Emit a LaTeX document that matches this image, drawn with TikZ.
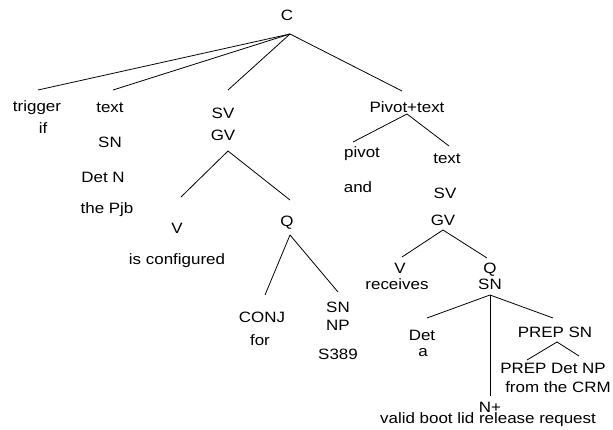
\documentclass[tikz,border=0pt]{standalone}
\usepackage{fontspec}
\setmainfont{Liberation Sans}[FakeStretch=1.13]
\begin{document}
\begin{tikzpicture}[x=1pt,y=-1pt,
  lbl/.style={inner sep=0pt,font=\fontsize{15}{18}\selectfont},
  edge/.style={draw=black,line width=0.8pt}]
\useasboundingbox (0,0) rectangle (613,430);
% nodes
\node[lbl] (C) at (287,15) {C};
\node[lbl] (trig) at (37,108) {trigger};
\node[lbl] (if) at (43,128) {if};
\node[lbl] (text1) at (110,108) {text};
\node[lbl] (SN1) at (110,142) {SN};
\node[lbl] (DetN) at (103,177) {Det N};
\node[lbl] (Pjb) at (107,210) {the Pjb};
\node[lbl] (SV1) at (223,113) {SV};
\node[lbl] (GV1) at (223,135) {GV};
\node[lbl] (V1) at (177,228) {V};
\node[lbl] (iscfg) at (177,261) {is configured};
\node[lbl] (Q1) at (287,223) {Q};
\node[lbl] (CONJ) at (262,317) {CONJ};
\node[lbl] (for) at (260,340) {for};
\node[lbl] (SN2) at (338,307) {SN};
\node[lbl] (NP) at (338,325) {NP};
\node[lbl] (S389) at (338,354) {S389};
\node[lbl] (Pivot) at (407,107) {Pivot+text};
\node[lbl] (pivot) at (362,154) {pivot};
\node[lbl] (and) at (358,187) {and};
\node[lbl] (text2) at (447,159) {text};
\node[lbl] (SV2) at (445,193) {SV};
\node[lbl] (GV2) at (443,220) {GV};
\node[lbl] (V2) at (400,268) {V};
\node[lbl] (receives) at (397,284) {receives};
\node[lbl] (Q2) at (490,270) {Q};
\node[lbl] (SN3) at (490,284) {SN};
\node[lbl] (Det) at (422,335) {Det};
\node[lbl] (a) at (423,353) {a};
\node[lbl] (PREPSN) at (555,332) {PREP SN};
\node[lbl] (PDN) at (553,368) {PREP Det NP};
\node[lbl] (CRM) at (558,387) {from the CRM};
\node[lbl] (Nplus) at (490,407) {N+};
\node[lbl] (valid) at (488,420) {valid boot lid release request};
% connectors
\draw[edge] ([shift={(3,19)}]C.center) -- ([shift={(1,-18)}]trig.center);
\draw[edge] ([shift={(3,19)}]C.center) -- ([shift={(3,-18)}]text1.center);
\draw[edge] ([shift={(3,19)}]C.center) -- ([shift={(5,-23)}]SV1.center);
\draw[edge] ([shift={(3,19)}]C.center) -- ([shift={(-5,-16)}]Pivot.center);
\draw[edge] ([shift={(5,16)}]GV1.center) -- ([shift={(4,-31)}]V1.center);
\draw[edge] ([shift={(5,16)}]GV1.center) -- ([shift={(3,-23)}]Q1.center);
\draw[edge] ([shift={(3,12)}]Q1.center) -- ([shift={(3,-22)}]CONJ.center);
\draw[edge] ([shift={(3,12)}]Q1.center) -- ([shift={(0,-15)}]SN2.center);
\draw[edge] ([shift={(0,7)}]Pivot.center) -- ([shift={(-9,-12)}]pivot.center);
\draw[edge] ([shift={(0,7)}]Pivot.center) -- ([shift={(2,-13)}]text2.center);
\draw[edge] ([shift={(0,10)}]GV2.center) -- ([shift={(2,-11)}]V2.center);
\draw[edge] ([shift={(0,10)}]GV2.center) -- ([shift={(-3,-12)}]Q2.center);
\draw[edge] ([shift={(0,11)}]SN3.center) -- ([shift={(5,-17)}]Det.center);
\draw[edge] ([shift={(0,11)}]SN3.center) -- ([shift={(0,-11)}]Nplus.center);
\draw[edge] ([shift={(0,11)}]SN3.center) -- ([shift={(-2,-14)}]PREPSN.center);
\draw[edge] ([shift={(2,10)}]PREPSN.center) -- ([shift={(-26,-8)}]PDN.center);
\draw[edge] ([shift={(2,10)}]PREPSN.center) -- ([shift={(26,-12)}]PDN.center);
\end{tikzpicture}
\end{document}
